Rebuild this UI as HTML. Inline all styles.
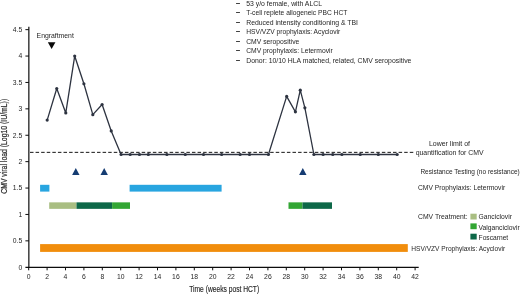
<!DOCTYPE html>
<html lang="en">
<head>
<meta charset="utf-8">
<title>CMV viral load</title>
<style>
html,body{margin:0;padding:0;background:#fff;}
body{width:520px;height:294px;overflow:hidden;}
svg{display:block;filter:blur(0.3px);}
text{font-family:"Liberation Sans",sans-serif;fill:#262626;}
</style>
</head>
<body>
<svg width="520" height="294" viewBox="0 0 520 294">
<rect width="520" height="294" fill="#ffffff"/>
<rect x="40.1" y="244.1" width="367.7" height="7.8" fill="#f18d0c"/>
<rect x="40.1" y="184.8" width="9.3" height="6.8" fill="#28a5e0"/>
<rect x="129.6" y="184.8" width="92.0" height="6.8" fill="#28a5e0"/>
<rect x="49.2" y="202.35" width="27.3" height="6.5" fill="#a9be82"/>
<rect x="76.5" y="202.35" width="35.6" height="6.5" fill="#0d6848"/>
<rect x="112.1" y="202.35" width="17.9" height="6.5" fill="#33a634"/>
<rect x="288.5" y="202.35" width="14.0" height="6.5" fill="#33a634"/>
<rect x="302.5" y="202.35" width="29.5" height="6.5" fill="#0d6848"/>
<polygon points="72.1,175.1 79.5,175.1 75.8,168.0" fill="#153c72"/>
<polygon points="100.5,175.1 107.9,175.1 104.2,168.0" fill="#153c72"/>
<polygon points="299.1,175.1 306.5,175.1 302.8,168.0" fill="#153c72"/>
<polygon points="47.85,42.3 55.45,42.3 51.65,48.9" fill="#0a0a0a"/>
<line x1="30.0" y1="152.35" x2="413.3" y2="152.35" stroke="#151515" stroke-width="1" stroke-dasharray="3.5 2.085"/>
<polyline points="47.19,120.1 56.76,88.52 65.78,112.97 74.7,56.05 83.9,83.77 92.82,114.66 102.12,104.52 111.22,130.92 121.07,154.5 130.18,154.5 139.47,154.5 148.3,154.5 166.88,154.5 185.28,154.5 203.5,154.5 221.62,154.5 240.12,154.5 249.5,154.5 268.45,154.5 286.67,96.39 295.41,111.86 300.28,90.16 304.88,107.79 313.9,154.5 323.1,154.5 332.76,154.5 341.87,154.5 360.27,154.5 378.3,154.5 397.16,154.5" fill="none" stroke="#2d3340" stroke-width="1.3" stroke-linejoin="round"/>
<circle cx="47.19" cy="120.1" r="1.6" fill="#2d3340"/>
<circle cx="56.76" cy="88.52" r="1.6" fill="#2d3340"/>
<circle cx="65.78" cy="112.97" r="1.6" fill="#2d3340"/>
<circle cx="74.7" cy="56.05" r="1.6" fill="#2d3340"/>
<circle cx="83.9" cy="83.77" r="1.6" fill="#2d3340"/>
<circle cx="92.82" cy="114.66" r="1.6" fill="#2d3340"/>
<circle cx="102.12" cy="104.52" r="1.6" fill="#2d3340"/>
<circle cx="111.22" cy="130.92" r="1.6" fill="#2d3340"/>
<circle cx="121.07" cy="154.5" r="1.6" fill="#2d3340"/>
<circle cx="130.18" cy="154.5" r="1.6" fill="#2d3340"/>
<circle cx="139.47" cy="154.5" r="1.6" fill="#2d3340"/>
<circle cx="148.3" cy="154.5" r="1.6" fill="#2d3340"/>
<circle cx="166.88" cy="154.5" r="1.6" fill="#2d3340"/>
<circle cx="185.28" cy="154.5" r="1.6" fill="#2d3340"/>
<circle cx="203.5" cy="154.5" r="1.6" fill="#2d3340"/>
<circle cx="221.62" cy="154.5" r="1.6" fill="#2d3340"/>
<circle cx="240.12" cy="154.5" r="1.6" fill="#2d3340"/>
<circle cx="249.5" cy="154.5" r="1.6" fill="#2d3340"/>
<circle cx="268.45" cy="154.5" r="1.6" fill="#2d3340"/>
<circle cx="286.67" cy="96.39" r="1.6" fill="#2d3340"/>
<circle cx="295.41" cy="111.86" r="1.6" fill="#2d3340"/>
<circle cx="300.28" cy="90.16" r="1.6" fill="#2d3340"/>
<circle cx="304.88" cy="107.79" r="1.6" fill="#2d3340"/>
<circle cx="313.9" cy="154.5" r="1.6" fill="#2d3340"/>
<circle cx="323.1" cy="154.5" r="1.6" fill="#2d3340"/>
<circle cx="332.76" cy="154.5" r="1.6" fill="#2d3340"/>
<circle cx="341.87" cy="154.5" r="1.6" fill="#2d3340"/>
<circle cx="360.27" cy="154.5" r="1.6" fill="#2d3340"/>
<circle cx="378.3" cy="154.5" r="1.6" fill="#2d3340"/>
<circle cx="397.16" cy="154.5" r="1.6" fill="#2d3340"/>
<line x1="28.85" y1="26.8" x2="28.85" y2="267.9" stroke="#0c0c0c" stroke-width="1.2"/>
<line x1="25.4" y1="267.3" x2="418.7" y2="267.3" stroke="#0c0c0c" stroke-width="1.2"/>
<line x1="28.7" y1="267.3" x2="28.7" y2="270.3" stroke="#0c0c0c" stroke-width="1"/>
<text x="28.7" y="279.3" font-size="6.8" text-anchor="middle">0</text>
<line x1="47.1" y1="267.3" x2="47.1" y2="270.3" stroke="#0c0c0c" stroke-width="1"/>
<text x="47.1" y="279.3" font-size="6.8" text-anchor="middle">2</text>
<line x1="65.5" y1="267.3" x2="65.5" y2="270.3" stroke="#0c0c0c" stroke-width="1"/>
<text x="65.5" y="279.3" font-size="6.8" text-anchor="middle">4</text>
<line x1="83.9" y1="267.3" x2="83.9" y2="270.3" stroke="#0c0c0c" stroke-width="1"/>
<text x="83.9" y="279.3" font-size="6.8" text-anchor="middle">6</text>
<line x1="102.3" y1="267.3" x2="102.3" y2="270.3" stroke="#0c0c0c" stroke-width="1"/>
<text x="102.3" y="279.3" font-size="6.8" text-anchor="middle">8</text>
<line x1="120.7" y1="267.3" x2="120.7" y2="270.3" stroke="#0c0c0c" stroke-width="1"/>
<text x="120.7" y="279.3" font-size="6.8" text-anchor="middle">10</text>
<line x1="139.1" y1="267.3" x2="139.1" y2="270.3" stroke="#0c0c0c" stroke-width="1"/>
<text x="139.1" y="279.3" font-size="6.8" text-anchor="middle">12</text>
<line x1="157.5" y1="267.3" x2="157.5" y2="270.3" stroke="#0c0c0c" stroke-width="1"/>
<text x="157.5" y="279.3" font-size="6.8" text-anchor="middle">14</text>
<line x1="175.9" y1="267.3" x2="175.9" y2="270.3" stroke="#0c0c0c" stroke-width="1"/>
<text x="175.9" y="279.3" font-size="6.8" text-anchor="middle">16</text>
<line x1="194.3" y1="267.3" x2="194.3" y2="270.3" stroke="#0c0c0c" stroke-width="1"/>
<text x="194.3" y="279.3" font-size="6.8" text-anchor="middle">18</text>
<line x1="212.7" y1="267.3" x2="212.7" y2="270.3" stroke="#0c0c0c" stroke-width="1"/>
<text x="212.7" y="279.3" font-size="6.8" text-anchor="middle">20</text>
<line x1="231.1" y1="267.3" x2="231.1" y2="270.3" stroke="#0c0c0c" stroke-width="1"/>
<text x="231.1" y="279.3" font-size="6.8" text-anchor="middle">22</text>
<line x1="249.5" y1="267.3" x2="249.5" y2="270.3" stroke="#0c0c0c" stroke-width="1"/>
<text x="249.5" y="279.3" font-size="6.8" text-anchor="middle">24</text>
<line x1="267.9" y1="267.3" x2="267.9" y2="270.3" stroke="#0c0c0c" stroke-width="1"/>
<text x="267.9" y="279.3" font-size="6.8" text-anchor="middle">26</text>
<line x1="286.3" y1="267.3" x2="286.3" y2="270.3" stroke="#0c0c0c" stroke-width="1"/>
<text x="286.3" y="279.3" font-size="6.8" text-anchor="middle">28</text>
<line x1="304.7" y1="267.3" x2="304.7" y2="270.3" stroke="#0c0c0c" stroke-width="1"/>
<text x="304.7" y="279.3" font-size="6.8" text-anchor="middle">30</text>
<line x1="323.1" y1="267.3" x2="323.1" y2="270.3" stroke="#0c0c0c" stroke-width="1"/>
<text x="323.1" y="279.3" font-size="6.8" text-anchor="middle">32</text>
<line x1="341.5" y1="267.3" x2="341.5" y2="270.3" stroke="#0c0c0c" stroke-width="1"/>
<text x="341.5" y="279.3" font-size="6.8" text-anchor="middle">34</text>
<line x1="359.9" y1="267.3" x2="359.9" y2="270.3" stroke="#0c0c0c" stroke-width="1"/>
<text x="359.9" y="279.3" font-size="6.8" text-anchor="middle">36</text>
<line x1="378.3" y1="267.3" x2="378.3" y2="270.3" stroke="#0c0c0c" stroke-width="1"/>
<text x="378.3" y="279.3" font-size="6.8" text-anchor="middle">38</text>
<line x1="396.7" y1="267.3" x2="396.7" y2="270.3" stroke="#0c0c0c" stroke-width="1"/>
<text x="396.7" y="279.3" font-size="6.8" text-anchor="middle">40</text>
<line x1="415.1" y1="267.3" x2="415.1" y2="270.3" stroke="#0c0c0c" stroke-width="1"/>
<text x="415.1" y="279.3" font-size="6.8" text-anchor="middle">42</text>
<line x1="25.4" y1="240.85" x2="28.9" y2="240.85" stroke="#0c0c0c" stroke-width="1"/>
<line x1="25.4" y1="214.45" x2="28.9" y2="214.45" stroke="#0c0c0c" stroke-width="1"/>
<line x1="25.4" y1="188.05" x2="28.9" y2="188.05" stroke="#0c0c0c" stroke-width="1"/>
<line x1="25.4" y1="161.65" x2="28.9" y2="161.65" stroke="#0c0c0c" stroke-width="1"/>
<line x1="25.4" y1="135.25" x2="28.9" y2="135.25" stroke="#0c0c0c" stroke-width="1"/>
<line x1="25.4" y1="108.85" x2="28.9" y2="108.85" stroke="#0c0c0c" stroke-width="1"/>
<line x1="25.4" y1="82.45" x2="28.9" y2="82.45" stroke="#0c0c0c" stroke-width="1"/>
<line x1="25.4" y1="56.05" x2="28.9" y2="56.05" stroke="#0c0c0c" stroke-width="1"/>
<line x1="25.4" y1="29.65" x2="28.9" y2="29.65" stroke="#0c0c0c" stroke-width="1"/>
<text x="22.3" y="269.55" font-size="6.8" text-anchor="end">0</text>
<text x="22.3" y="243.15" font-size="6.8" text-anchor="end">0.5</text>
<text x="22.3" y="216.75" font-size="6.8" text-anchor="end">1</text>
<text x="22.3" y="190.35" font-size="6.8" text-anchor="end">1.5</text>
<text x="22.3" y="163.95" font-size="6.8" text-anchor="end">2</text>
<text x="22.3" y="137.55" font-size="6.8" text-anchor="end">2.5</text>
<text x="22.3" y="111.15" font-size="6.8" text-anchor="end">3</text>
<text x="22.3" y="84.75" font-size="6.8" text-anchor="end">3.5</text>
<text x="22.3" y="58.35" font-size="6.8" text-anchor="end">4</text>
<text x="22.3" y="31.95" font-size="6.8" text-anchor="end">4.5</text>
<text transform="translate(7.4,193.8) rotate(-90)" font-size="9" stroke="#262626" stroke-width="0.18" textLength="95" lengthAdjust="spacingAndGlyphs">CMV viral load (Log10 (IU/mL))</text>
<text x="189.2" y="291.5" font-size="9" stroke="#262626" stroke-width="0.15" textLength="70" lengthAdjust="spacingAndGlyphs">Time (weeks post HCT)</text>
<text x="36.6" y="38.2" font-size="6.8" textLength="37.2" lengthAdjust="spacingAndGlyphs">Engraftment</text>
<text x="236.0" y="4.85" font-size="7.5" font-weight="bold" stroke="#262626" stroke-width="0.25" textLength="4" lengthAdjust="spacingAndGlyphs">–</text>
<text x="246.2" y="5.85" font-size="6.8" textLength="75.8" lengthAdjust="spacingAndGlyphs">53 y/o female, with ALCL</text>
<text x="236.0" y="14.3" font-size="7.5" font-weight="bold" stroke="#262626" stroke-width="0.25" textLength="4" lengthAdjust="spacingAndGlyphs">–</text>
<text x="246.2" y="15.3" font-size="6.8" textLength="101.1" lengthAdjust="spacingAndGlyphs">T-cell replete allogeneic PBC HCT</text>
<text x="236.0" y="23.75" font-size="7.5" font-weight="bold" stroke="#262626" stroke-width="0.25" textLength="4" lengthAdjust="spacingAndGlyphs">–</text>
<text x="246.2" y="24.75" font-size="6.8" textLength="111.8" lengthAdjust="spacingAndGlyphs">Reduced intensity conditioning &amp; TBI</text>
<text x="236.0" y="33.2" font-size="7.5" font-weight="bold" stroke="#262626" stroke-width="0.25" textLength="4" lengthAdjust="spacingAndGlyphs">–</text>
<text x="246.2" y="34.2" font-size="6.8" textLength="94.1" lengthAdjust="spacingAndGlyphs">HSV/VZV prophylaxis: Acyclovir</text>
<text x="236.0" y="42.65" font-size="7.5" font-weight="bold" stroke="#262626" stroke-width="0.25" textLength="4" lengthAdjust="spacingAndGlyphs">–</text>
<text x="246.2" y="43.65" font-size="6.8" textLength="53.1" lengthAdjust="spacingAndGlyphs">CMV seropositive</text>
<text x="236.0" y="52.1" font-size="7.5" font-weight="bold" stroke="#262626" stroke-width="0.25" textLength="4" lengthAdjust="spacingAndGlyphs">–</text>
<text x="246.2" y="53.1" font-size="6.8" textLength="86.6" lengthAdjust="spacingAndGlyphs">CMV prophylaxis: Letermovir</text>
<text x="236.0" y="61.55" font-size="7.5" font-weight="bold" stroke="#262626" stroke-width="0.25" textLength="4" lengthAdjust="spacingAndGlyphs">–</text>
<text x="246.2" y="62.55" font-size="6.8" textLength="165.2" lengthAdjust="spacingAndGlyphs">Donor: 10/10 HLA matched, related, CMV seropositive</text>
<text x="428.9" y="145.9" font-size="6.8" textLength="41.1" lengthAdjust="spacingAndGlyphs">Lower limit of</text>
<text x="415.7" y="154.5" font-size="6.8" textLength="68" lengthAdjust="spacingAndGlyphs">quantification for CMV</text>
<text x="420.4" y="173.7" font-size="6.8" textLength="99.3" lengthAdjust="spacingAndGlyphs">Resistance Testing (no resistance)</text>
<text x="418" y="189.7" font-size="6.8" textLength="87.2" lengthAdjust="spacingAndGlyphs">CMV Prophylaxis: Letermovir</text>
<text x="418" y="218.9" font-size="6.8" textLength="49.6" lengthAdjust="spacingAndGlyphs">CMV Treatment:</text>
<text x="478.6" y="219.1" font-size="6.8" textLength="33.3" lengthAdjust="spacingAndGlyphs">Ganciclovir</text>
<text x="478.6" y="229.6" font-size="6.8" textLength="41.1" lengthAdjust="spacingAndGlyphs">Valganciclovir</text>
<text x="478.6" y="240.2" font-size="6.8" textLength="29.6" lengthAdjust="spacingAndGlyphs">Foscarnet</text>
<text x="411.3" y="250.6" font-size="6.8" textLength="93.8" lengthAdjust="spacingAndGlyphs">HSV/VZV Prophylaxis: Acyclovir</text>
<rect x="470.4" y="213.7" width="6.3" height="5.8" fill="#a9be82"/>
<rect x="470.4" y="223.4" width="6.3" height="5.8" fill="#33a634"/>
<rect x="470.4" y="233.7" width="6.3" height="5.8" fill="#0d6848"/>
</svg>
</body>
</html>
